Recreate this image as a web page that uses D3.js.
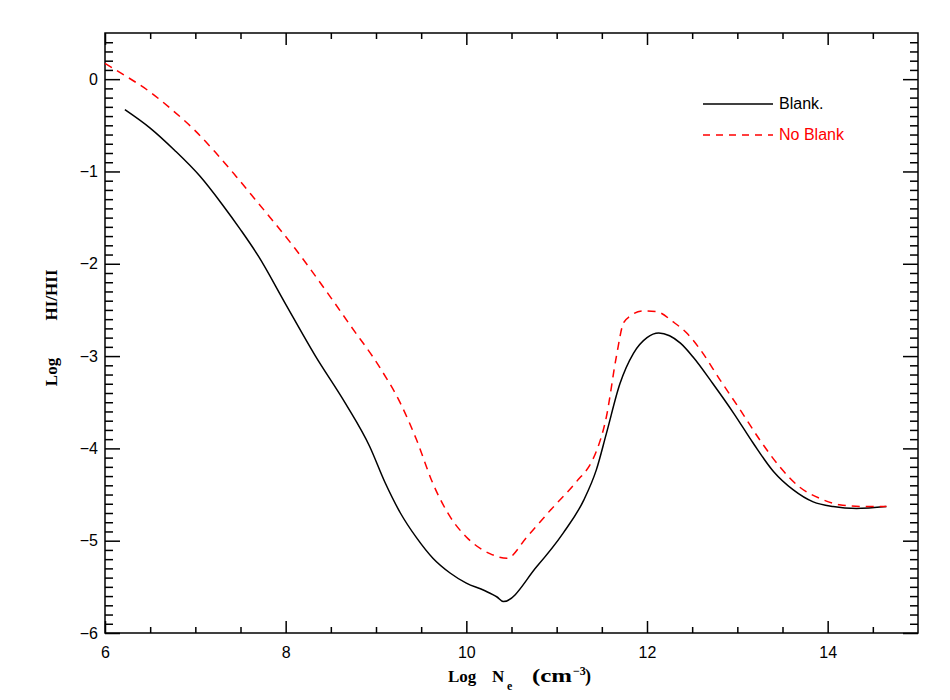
<!DOCTYPE html>
<html>
<head>
<meta charset="utf-8">
<script src="https://cdn.jsdelivr.net/npm/d3@7"></script>
<style>
  body { margin: 0; background: #fff; }
  svg { display: block; }
  .tick text { font-family: "Liberation Sans", Arial, sans-serif; font-size: 16px; fill: #000; }
  .title { font-family: "Liberation Serif", "DejaVu Serif", serif; font-weight: bold; font-size: 17px; }
</style>
</head>
<body>
<svg width="950" height="700"></svg>
<script>
// Log Ne (cm^-3)
var blankX = [6.22, 6.5, 6.77, 7.05, 7.3, 7.5, 7.7, 7.99, 8.33, 8.66, 8.93, 9.1, 9.27, 9.45, 9.63, 9.82, 10.0, 10.2, 10.34, 10.41,
    10.78, 11.07, 11.3, 11.44, 11.55, 11.7, 11.85, 12.0, 12.13, 12.25, 12.37, 12.51, 12.73, 12.96, 13.18, 13.4, 13.62, 13.84, 14.06, 14.32, 14.65];
// Log HI/HII, Blank.
var blankY = [-0.33, -0.53, -0.77, -1.05, -1.36, -1.63, -1.92, -2.42, -3.0, -3.51, -3.98, -4.37, -4.7, -4.97, -5.19, -5.35, -5.46, -5.54, -5.61, -5.66,
    -5.28, -4.92, -4.56, -4.23, -3.84, -3.3, -2.97, -2.8, -2.75, -2.78, -2.86, -3.01, -3.3, -3.62, -3.95, -4.25, -4.45, -4.58, -4.63, -4.65, -4.63];

var noBlankX = [6.0, 6.22, 6.5, 6.74, 7.0, 7.22, 7.44, 7.66, 8.1, 8.51, 8.71, 9.04, 9.27, 9.45, 9.63, 9.82, 10.0, 10.26, 10.45, 10.67, 10.93,
    11.22, 11.39, 11.44, 11.55, 11.66, 11.74, 11.81, 11.96, 12.11, 12.29, 12.44, 12.59, 12.81, 13.03, 13.25, 13.47, 13.69, 13.91, 14.13, 14.39, 14.65];
var noBlankY = [0.17, 0.04, -0.14, -0.33, -0.56, -0.79, -1.04, -1.3, -1.83, -2.38, -2.66, -3.12, -3.51, -3.91, -4.38, -4.74, -4.96, -5.14, -5.19, -4.96, -4.67,
    -4.36, -4.14, -4.03, -3.66, -3.01, -2.64, -2.57, -2.51, -2.52, -2.63, -2.75, -2.93, -3.26, -3.58, -3.91, -4.2, -4.42, -4.54, -4.61, -4.63, -4.63];

var xMajor = [6, 8, 10, 12, 14];
var yMajor = [-6, -5, -4, -3, -2, -1, 0];
var legendNames = ["Blank.", "No Blank"];

var margin = { top: 33, right: 32, bottom: 67, left: 105 },
    width = 950 - margin.left - margin.right,
    height = 700 - margin.top - margin.bottom;

var svg = d3.select("svg")
    .append("g")
    .attr("transform", "translate(" + margin.left + "," + margin.top + ")");

var x = d3.scaleLinear().domain([6, 15]).range([0, width]);
var y = d3.scaleLinear().domain([-6, 0.5]).range([height, 0]);

var xMinor = d3.range(6.5, 15, 0.5).filter(function (d) { return d % 2 != 0; });
var yMinor = d3.range(-60, 5).map(function (d) { return d / 10; }).filter(function (d) { return Math.abs(d - Math.round(d)) > 1e-6; });

function styleAxis(g) {
    g.select(".domain").remove();
    g.selectAll("line").attr("stroke", "#000").attr("stroke-width", 1.5);
}

// bottom
svg.append("g").attr("transform", "translate(0," + height + ")")
    .call(d3.axisBottom(x).tickValues(xMajor).tickSize(-12).tickPadding(14).tickFormat(d3.format("d")))
    .call(styleAxis);
svg.append("g").attr("transform", "translate(0," + height + ")")
    .call(d3.axisBottom(x).tickValues(xMinor).tickSize(-6).tickFormat(""))
    .call(styleAxis);
// top
svg.append("g")
    .call(d3.axisTop(x).tickValues(xMajor).tickSize(-12).tickFormat(""))
    .call(styleAxis);
svg.append("g")
    .call(d3.axisTop(x).tickValues(xMinor).tickSize(-6).tickFormat(""))
    .call(styleAxis);
// left
svg.append("g")
    .call(d3.axisLeft(y).tickValues(yMajor).tickSize(-15).tickPadding(7).tickFormat(function (d) { return d < 0 ? "\u2212" + Math.abs(d) : d; }))
    .call(styleAxis);
svg.append("g")
    .call(d3.axisLeft(y).tickValues(yMinor).tickSize(-8).tickFormat(""))
    .call(styleAxis);
// right
svg.append("g").attr("transform", "translate(" + width + ",0)")
    .call(d3.axisRight(y).tickValues(yMajor).tickSize(-15).tickFormat(""))
    .call(styleAxis);
svg.append("g").attr("transform", "translate(" + width + ",0)")
    .call(d3.axisRight(y).tickValues(yMinor).tickSize(-8).tickFormat(""))
    .call(styleAxis);

svg.append("rect")
    .attr("width", width).attr("height", height)
    .attr("fill", "none").attr("stroke", "#000").attr("stroke-width", 1.5);

var line = d3.line()
    .curve(d3.curveMonotoneX)
    .x(function (d) { return x(d[0]); })
    .y(function (d) { return y(d[1]); });

svg.append("path")
    .datum(d3.zip(blankX, blankY))
    .attr("fill", "none").attr("stroke", "#000").attr("stroke-width", 1.5)
    .attr("d", line);

svg.append("path")
    .datum(d3.zip(noBlankX, noBlankY))
    .attr("fill", "none").attr("stroke", "#ff0000").attr("stroke-width", 1.5)
    .attr("stroke-dasharray", "8,6")
    .attr("d", line);

// legend
var legend = svg.append("g").attr("transform", "translate(598,71)");
legendNames.forEach(function (name, i) {
    var color = i == 0 ? "#000" : "#ff0000";
    legend.append("line")
        .attr("x1", 0).attr("x2", 70).attr("y1", i * 31).attr("y2", i * 31)
        .attr("stroke", color).attr("stroke-width", 1.5)
        .attr("stroke-dasharray", i == 0 ? null : "7,6");
    legend.append("text")
        .attr("x", 76).attr("y", i * 31 + 5)
        .attr("font-family", "'Liberation Sans', Arial, sans-serif")
        .attr("font-size", "16px")
        .attr("fill", color)
        .text(name);
});

// axis titles
var xt = svg.append("g").attr("class", "title");
xt.append("text").attr("x", 343).attr("y", 649).text("Log");
xt.append("text").attr("x", 387).attr("y", 649).text("N");
xt.append("text").attr("x", 402).attr("y", 657).attr("font-size", "12px").text("e");
xt.append("text").attr("x", 427).attr("y", 649).attr("font-size", "18px")
    .attr("textLength", 40).attr("lengthAdjust", "spacingAndGlyphs").text("(cm");
xt.append("text").attr("x", 468).attr("y", 642).attr("font-size", "12px").text("\u22123");
xt.append("text").attr("x", 480).attr("y", 649).attr("font-size", "18px").text(")");

svg.append("text")
    .attr("class", "title")
    .attr("transform", "translate(-48,339)rotate(-90)")
    .attr("text-anchor", "middle")
    .text("Log");
svg.append("text")
    .attr("class", "title")
    .attr("transform", "translate(-48,262)rotate(-90)")
    .attr("text-anchor", "middle")
    .attr("font-size", "18px")
    .text("HI/HII");
</script>
</body>
</html>
